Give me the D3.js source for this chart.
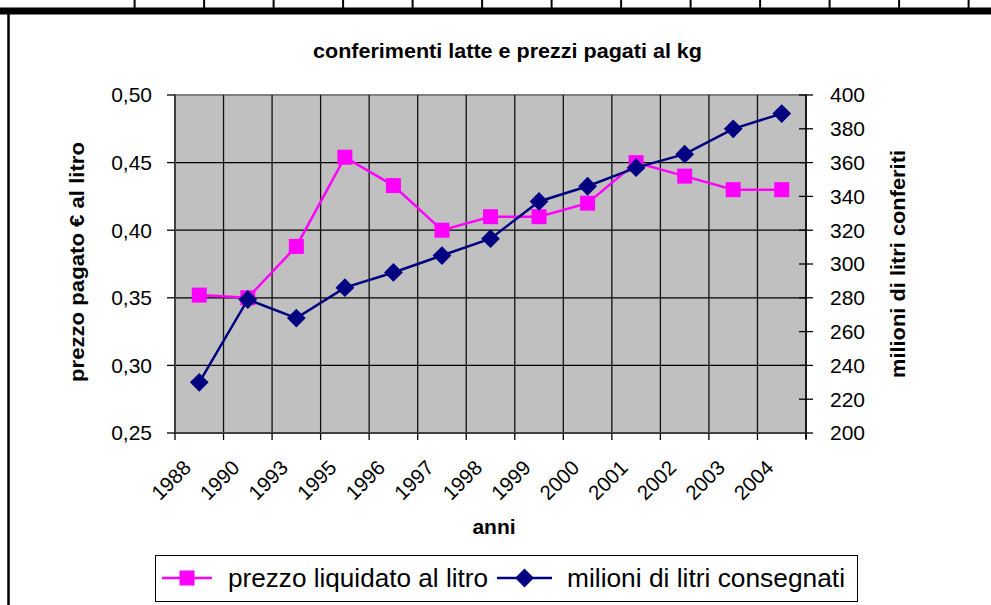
<!DOCTYPE html>
<html>
<head>
<meta charset="utf-8">
<script src="https://cdn.jsdelivr.net/npm/d3@7"></script>
<style>
  html, body { margin: 0; padding: 0; background: #fff; }
  svg { display: block; font-family: "Liberation Sans", Arial, sans-serif; }
</style>
</head>
<body>
<div id="chart"></div>
<script>
// conferimenti latte e prezzi pagati — two y axes, category x axis

const anni    = ['1988', '1990', '1993', '1995', '1996', '1997', '1998', '1999', '2000', '2001', '2002', '2003', '2004'];
const prezzo  = [0.352, 0.350, 0.388, 0.454, 0.433, 0.400, 0.410, 0.410, 0.420, 0.450, 0.440, 0.430, 0.430];
const milioni = [230, 279, 268, 286, 295, 305, 315, 337, 346, 357, 365, 380, 389];

const ticksLeft  = [0.25, 0.30, 0.35, 0.40, 0.45, 0.50];
const ticksRight = [200, 220, 240, 260, 280, 300, 320, 340, 360, 380, 400];

const W = 991, H = 605;
const plot = { left: 175, right: 806, top: 95, bottom: 433 };

const PINK = '#FF00FF';
const NAVY = '#000080';

const itLocale = d3.formatLocale({ decimal: ',', thousands: '.', grouping: [3], currency: ['€', ''] });
const fmtLeft = itLocale.format('.2f');

const svg = d3.select('#chart').append('svg')
  .attr('width', W)
  .attr('height', H)
  .attr('viewBox', `0 0 ${W} ${H}`);

svg.append('rect').attr('width', W).attr('height', H).attr('fill', '#fff');

// ─── spreadsheet frame behind the chart ───────────────────────────────────────
const cellEdges = d3.range(13).map(i => 134.6 + i * 69.5);
svg.selectAll('line.cell')
  .data(cellEdges)
  .join('line')
  .attr('x1', d => d).attr('x2', d => d)
  .attr('y1', 0).attr('y2', 9)
  .attr('stroke', '#000').attr('stroke-width', 2);
svg.append('rect').attr('x', 0).attr('y', 7.5).attr('width', W).attr('height', 7).attr('fill', '#000');
svg.append('line')
  .attr('x1', 8.5).attr('x2', 8.5).attr('y1', 14).attr('y2', H)
  .attr('stroke', '#000').attr('stroke-width', 2.5);

// ─── scales ───────────────────────────────────────────────────────────────────
const x = d3.scaleBand().domain(anni).range([plot.left, plot.right]).padding(0);
const cx = d => x(d) + x.bandwidth() / 2;
const yL = d3.scaleLinear().domain([0.25, 0.50]).range([plot.bottom, plot.top]);
const yR = d3.scaleLinear().domain([200, 400]).range([plot.bottom, plot.top]);

// plot area
svg.append('rect')
  .attr('x', plot.left).attr('y', plot.top)
  .attr('width', plot.right - plot.left).attr('height', plot.bottom - plot.top)
  .attr('fill', '#C0C0C0')
  .attr('stroke', '#808080').attr('stroke-width', 2);

// horizontal gridlines
svg.selectAll('line.hgrid')
  .data(ticksLeft.slice(1, -1))
  .join('line')
  .attr('x1', plot.left).attr('x2', plot.right)
  .attr('y1', d => yL(d)).attr('y2', d => yL(d))
  .attr('stroke', '#000').attr('stroke-width', 1.3);

// vertical gridlines at category boundaries
const bounds = anni.map(d => x(d)).concat([plot.right]);
svg.selectAll('line.vgrid')
  .data(bounds.slice(1, -1))
  .join('line')
  .attr('x1', d => d).attr('x2', d => d)
  .attr('y1', plot.top).attr('y2', plot.bottom)
  .attr('stroke', '#111').attr('stroke-width', 1.3);

// ─── axes ─────────────────────────────────────────────────────────────────────
// left value axis
svg.append('line')
  .attr('x1', plot.left).attr('x2', plot.left).attr('y1', plot.top).attr('y2', plot.bottom)
  .attr('stroke', '#404040').attr('stroke-width', 2);
svg.selectAll('line.tickL')
  .data(ticksLeft)
  .join('line')
  .attr('x1', plot.left - 8).attr('x2', plot.left)
  .attr('y1', d => yL(d)).attr('y2', d => yL(d))
  .attr('stroke', '#000').attr('stroke-width', 1.3);
svg.selectAll('text.tickL')
  .data(ticksLeft)
  .join('text')
  .attr('x', 152).attr('y', d => yL(d))
  .attr('dy', '0.35em')
  .attr('text-anchor', 'end')
  .attr('font-size', 21)
  .text(d => fmtLeft(d));

// right value axis
svg.append('line')
  .attr('x1', plot.right).attr('x2', plot.right).attr('y1', plot.top).attr('y2', plot.bottom + 6)
  .attr('stroke', '#000').attr('stroke-width', 1.6);
svg.selectAll('line.tickR')
  .data(ticksRight)
  .join('line')
  .attr('x1', plot.right - 7).attr('x2', plot.right + 7)
  .attr('y1', d => yR(d)).attr('y2', d => yR(d))
  .attr('stroke', '#000').attr('stroke-width', 1.3);
svg.selectAll('text.tickR')
  .data(ticksRight)
  .join('text')
  .attr('x', 830).attr('y', d => yR(d))
  .attr('dy', '0.35em')
  .attr('text-anchor', 'start')
  .attr('font-size', 21)
  .text(d => d);

// category axis
svg.append('line')
  .attr('x1', plot.left).attr('x2', plot.right).attr('y1', plot.bottom).attr('y2', plot.bottom)
  .attr('stroke', '#404040').attr('stroke-width', 2);
svg.selectAll('line.tickX')
  .data(bounds)
  .join('line')
  .attr('x1', d => d).attr('x2', d => d)
  .attr('y1', plot.bottom).attr('y2', plot.bottom + 7)
  .attr('stroke', '#000').attr('stroke-width', 1.3);
svg.selectAll('text.tickX')
  .data(anni)
  .join('text')
  .attr('transform', d => `translate(${cx(d) - 7},${plot.bottom + 36}) rotate(-45)`)
  .attr('text-anchor', 'end')
  .attr('font-size', 20.5)
  .text(d => d);

// ─── titles ───────────────────────────────────────────────────────────────────
svg.append('text')
  .attr('x', 507.5).attr('y', 58)
  .attr('text-anchor', 'middle')
  .attr('font-size', 21).attr('font-weight', 'bold')
  .attr('textLength', 389).attr('lengthAdjust', 'spacingAndGlyphs')
  .text('conferimenti latte e prezzi pagati al kg');

svg.append('text')
  .attr('transform', 'translate(84,262) rotate(-90)')
  .attr('text-anchor', 'middle')
  .attr('font-size', 20).attr('font-weight', 'bold')
  .attr('textLength', 240).attr('lengthAdjust', 'spacingAndGlyphs')
  .text('prezzo pagato € al litro');

svg.append('text')
  .attr('transform', 'translate(905,264) rotate(-90)')
  .attr('text-anchor', 'middle')
  .attr('font-size', 20).attr('font-weight', 'bold')
  .attr('textLength', 228).attr('lengthAdjust', 'spacingAndGlyphs')
  .text('milioni di litri conferiti');

svg.append('text')
  .attr('x', 494).attr('y', 534)
  .attr('text-anchor', 'middle')
  .attr('font-size', 21).attr('font-weight', 'bold')
  .text('anni');

// ─── series ───────────────────────────────────────────────────────────────────
const squareSym  = d3.symbol().type(d3.symbolSquare).size(225);
const diamondSym = d3.symbol().type(d3.symbolDiamond2).size(225);

const linePrezzo = d3.line().x((d, i) => cx(anni[i])).y(d => yL(d));
const lineMilioni = d3.line().x((d, i) => cx(anni[i])).y(d => yR(d));

svg.append('path')
  .datum(prezzo)
  .attr('d', linePrezzo)
  .attr('fill', 'none').attr('stroke', PINK).attr('stroke-width', 2.5);
svg.selectAll('path.mk-prezzo')
  .data(prezzo)
  .join('path')
  .attr('class', 'mk-prezzo')
  .attr('transform', (d, i) => `translate(${cx(anni[i])},${yL(d)})`)
  .attr('d', squareSym)
  .attr('fill', PINK);

svg.append('path')
  .datum(milioni)
  .attr('d', lineMilioni)
  .attr('fill', 'none').attr('stroke', NAVY).attr('stroke-width', 2.5);
svg.selectAll('path.mk-milioni')
  .data(milioni)
  .join('path')
  .attr('class', 'mk-milioni')
  .attr('transform', (d, i) => `translate(${cx(anni[i])},${yR(d)})`)
  .attr('d', diamondSym)
  .attr('fill', NAVY);

// ─── legend ───────────────────────────────────────────────────────────────────
const legendItems = [
  { label: 'prezzo liquidato al litro',   color: PINK, sym: squareSym,  x0: 162, x1: 212, tx: 228, tl: 260 },
  { label: 'milioni di litri consegnati', color: NAVY, sym: diamondSym, x0: 497, x1: 552, tx: 567, tl: 278 },
];
const legY = 578;
svg.append('rect')
  .attr('x', 155.5).attr('y', 555.5).attr('width', 702).attr('height', 46)
  .attr('fill', '#fff').attr('stroke', '#000').attr('stroke-width', 1);
const leg = svg.selectAll('g.leg').data(legendItems).join('g').attr('class', 'leg');
leg.append('line')
  .attr('x1', d => d.x0).attr('x2', d => d.x1).attr('y1', legY).attr('y2', legY)
  .attr('stroke', d => d.color).attr('stroke-width', 2.5);
leg.append('path')
  .attr('transform', d => `translate(${(d.x0 + d.x1) / 2},${legY})`)
  .attr('d', d => d.sym())
  .attr('fill', d => d.color);
leg.append('text')
  .attr('x', d => d.tx).attr('y', legY + 9)
  .attr('font-size', 25)
  .attr('textLength', d => d.tl).attr('lengthAdjust', 'spacingAndGlyphs')
  .text(d => d.label);
</script>
</body>
</html>
